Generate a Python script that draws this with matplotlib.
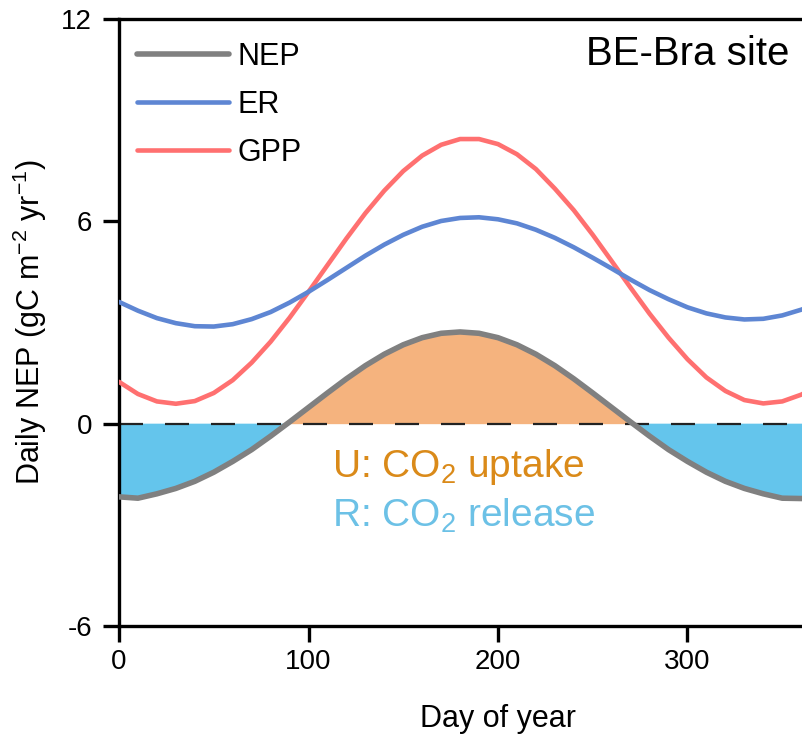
import numpy as np
import matplotlib
matplotlib.use('Agg')
import matplotlib.pyplot as plt

plt.rcParams['font.family'] = ['Liberation Sans', 'DejaVu Sans']
plt.rcParams['mathtext.fontset'] = 'custom'
plt.rcParams['mathtext.rm'] = 'Liberation Sans'
plt.rcParams['mathtext.default'] = 'regular'
plt.rcParams['axes.unicode_minus'] = False

# values, every 10 days
day = [0, 10, 20, 30, 40, 50, 60, 70, 80, 90, 100, 110, 120, 130, 140, 150, 160, 170, 180,
       190, 200, 210, 220, 230, 240, 250, 260, 270, 280, 290, 300, 310, 320, 330, 340, 350, 360, 365]
nep = [-2.17, -2.21, -2.08, -1.92, -1.71, -1.44, -1.12, -0.77, -0.37, 0.05, 0.48, 0.91, 1.33,
       1.72, 2.06, 2.34, 2.55, 2.68, 2.72, 2.68, 2.55, 2.34, 2.06, 1.72, 1.33, 0.91, 0.48, 0.05,
       -0.37, -0.77, -1.12, -1.44, -1.71, -1.92, -2.08, -2.21, -2.22, -2.20]
er = [3.61, 3.35, 3.13, 2.98, 2.89, 2.88, 2.95, 3.10, 3.31, 3.59, 3.91, 4.26, 4.62, 4.98, 5.31,
      5.60, 5.84, 6.01, 6.10, 6.12, 6.06, 5.94, 5.75, 5.51, 5.23, 4.92, 4.60, 4.27, 3.96, 3.69,
      3.45, 3.27, 3.15, 3.09, 3.11, 3.21, 3.38, 3.48]
gpp = [1.24, 0.88, 0.66, 0.59, 0.67, 0.91, 1.29, 1.81, 2.43, 3.14, 3.91, 4.70, 5.49, 6.24, 6.91,
       7.49, 7.95, 8.27, 8.44, 8.44, 8.29, 7.99, 7.55, 6.97, 6.33, 5.60, 4.82, 4.03, 3.26, 2.55,
       1.91, 1.37, 0.97, 0.70, 0.60, 0.66, 0.86, 1.00]

x = np.array(day)
y = np.array(nep)

fig = plt.figure(figsize=(8.02, 7.40), dpi=100)
ax = fig.add_axes([119 / 802, 114 / 740, 758 / 802, 607 / 740])

ax.fill_between(x, y, 0, where=y >= 0, interpolate=True, color='#F5B37E', lw=0, zorder=1)
ax.fill_between(x, y, 0, where=y <= 0, interpolate=True, color='#64C5EC', lw=0, zorder=1)
ax.axhline(0, color='#222222', lw=1.6, ls=(0, (10.8, 9.9)), zorder=2)

ax.plot(x, y, color='#808080', lw=4.0, label='NEP', zorder=5, solid_capstyle='round')
ax.plot(x, er, color='#5E86D3', lw=3.3, label='ER', zorder=4, solid_capstyle='round')
ax.plot(x, gpp, color='#FF7070', lw=3.3, label='GPP', zorder=3, solid_capstyle='round')

ax.set_xlim(0, 400)
ax.set_ylim(-6, 12)
ax.set_xticks([0, 100, 200, 300])
ax.set_yticks([-6, 0, 6, 12])

for s in ['left', 'bottom', 'top']:
    ax.spines[s].set_linewidth(2.4)
ax.spines['right'].set_visible(False)
ax.tick_params(axis='both', direction='out', length=11.5, width=2.4, labelsize=20)
ax.tick_params(axis='y', pad=8)
ax.tick_params(axis='x', pad=5)

ax.set_xlabel('Day of year', fontsize=22)
ax.set_ylabel('Daily NEP (gC m$^{-2}$ yr$^{-1}$)', fontsize=22)
ax.xaxis.set_label_coords(0.5, -0.1285)
ax.yaxis.set_label_coords(-0.092, 0.5)

ax.text(354, 10.64, 'BE-Bra site', fontsize=29, ha='right', va='baseline')
ax.text(112.6, -1.57, 'U: CO$_2$ uptake', fontsize=28, color='#DA8A19', va='baseline')
ax.text(112.6, -3.05, 'R: CO$_2$ release', fontsize=28, color='#6CC1E6', va='baseline')

ax.legend(loc='upper left', bbox_to_anchor=(0.0237, 0.962), frameon=False, fontsize=22,
          handlelength=3.0, handletextpad=0.3, labelspacing=0.58, borderpad=0, borderaxespad=0)

fig.savefig('out.png', dpi=100)
